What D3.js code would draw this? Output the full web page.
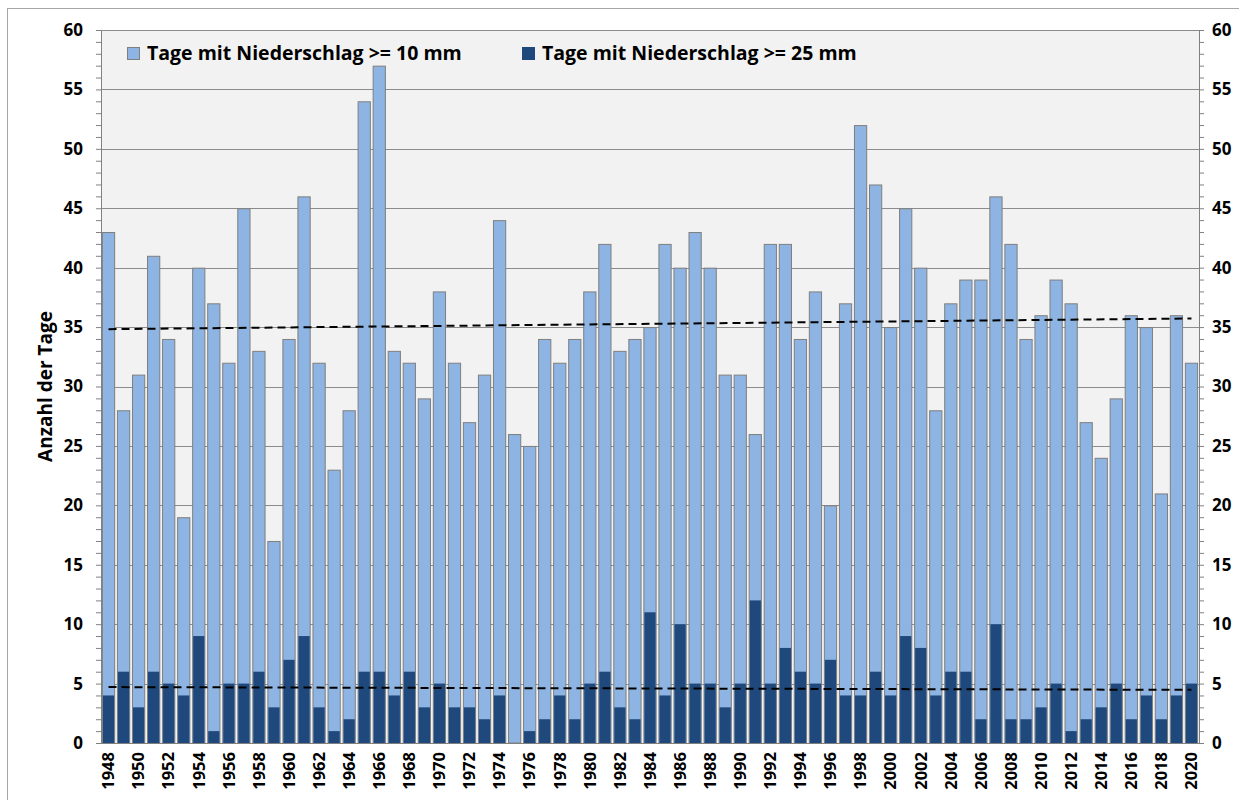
<!DOCTYPE html>
<html>
<head>
<meta charset="utf-8">
<script src="https://cdn.jsdelivr.net/npm/d3@7"></script>
<style>
  body { margin: 0; background: #fff; }
  svg text { font-family: "Open Sans", sans-serif; font-weight: bold; fill: #000; }
</style>
</head>
<body>
<svg id="vis" width="1239" height="800"></svg>
<script>
// years on the x axis
const years = d3.range(1948, 2021);

// Tage mit Niederschlag >= 10 mm
const days10 = [
	43, 28, 31, 41, 34, 19, 40, 37, 32, 45,
	33, 17, 34, 46, 32, 23, 28, 54, 57, 33,
	32, 29, 38, 32, 27, 31, 44, 26, 25, 34,
	32, 34, 38, 42, 33, 34, 35, 42, 40, 43,
	40, 31, 31, 26, 42, 42, 34, 38, 20, 37,
	52, 47, 35, 45, 40, 28, 37, 39, 39, 46,
	42, 34, 36, 39, 37, 27, 24, 29, 36, 35,
	21, 36, 32
];

// Tage mit Niederschlag >= 25 mm
const days25 = [
	4, 6, 3, 6, 5, 4, 9, 1, 5, 5,
	6, 3, 7, 9, 3, 1, 2, 6, 6, 4,
	6, 3, 5, 3, 3, 2, 4, 0, 1, 2,
	4, 2, 5, 6, 3, 2, 11, 4, 10, 5,
	5, 3, 5, 12, 5, 8, 6, 5, 7, 4,
	4, 6, 4, 9, 8, 4, 6, 6, 2, 10,
	2, 2, 3, 5, 1, 2, 3, 5, 2, 4,
	2, 4, 5
];

const series = [
	{ label: "Tage mit Niederschlag >= 10 mm", values: days10, color: "#8db4e2" },
	{ label: "Tage mit Niederschlag >= 25 mm", values: days25, color: "#1f497d" }
];

const yTicks = d3.range(0, 61, 5);

const svg = d3.select("svg#vis");
const plot = { left: 101, right: 1199, top: 30, bottom: 743 };

// outer chart frame
svg.append("rect")
	.attr("x", 7.5).attr("y", 8.5)
	.attr("width", 1240).attr("height", 800)
	.attr("fill", "none")
	.attr("stroke", "#a6a6a6");

const x = d3.scaleBand()
	.domain(years)
	.range([plot.left, plot.right])
	.paddingInner(0.12)
	.paddingOuter(0.06);

const y = d3.scaleLinear()
	.domain([0, 60])
	.range([plot.bottom, plot.top]);

// plot background
svg.append("rect")
	.attr("x", plot.left).attr("y", plot.top)
	.attr("width", plot.right - plot.left)
	.attr("height", plot.bottom - plot.top)
	.attr("fill", "#f2f2f2");

// gridlines
svg.append("g")
	.selectAll("line")
	.data(yTicks.filter(d => d > 0))
	.join("line")
	.attr("x1", plot.left).attr("x2", plot.right)
	.attr("y1", d => Math.round(y(d)) + 0.5)
	.attr("y2", d => Math.round(y(d)) + 0.5)
	.attr("stroke", "#8c8c8c");

// bars, the >= 25 mm bars drawn over the >= 10 mm bars
svg.append("g")
	.selectAll("rect")
	.data(days10)
	.join("rect")
	.attr("x", (d, i) => x(years[i]) + 0.5)
	.attr("y", d => y(d) + 0.5)
	.attr("width", x.bandwidth() - 1)
	.attr("height", d => y(0) - y(d) - 0.5)
	.attr("fill", series[0].color)
	.attr("stroke", "#7f7f7f");

svg.append("g")
	.selectAll("rect")
	.data(days25)
	.join("rect")
	.attr("x", (d, i) => x(years[i]) + 1)
	.attr("y", d => y(d))
	.attr("width", x.bandwidth() - 2)
	.attr("height", d => y(0) - y(d))
	.attr("fill", series[1].color);

// linear trend lines
function trend(values) {
	const mx = d3.mean(years), my = d3.mean(values);
	let num = 0, den = 0;
	years.forEach((yr, i) => {
		num += (yr - mx) * (values[i] - my);
		den += (yr - mx) * (yr - mx);
	});
	const b = num / den;
	const a = my - b * mx;
	return [years[0], years[years.length - 1]].map(yr => [yr, a + b * yr]);
}

const line = d3.line()
	.x(d => x(d[0]) + x.bandwidth() / 2)
	.y(d => y(d[1]));

svg.append("g")
	.selectAll("path")
	.data(series)
	.join("path")
	.attr("d", s => line(trend(s.values)))
	.attr("fill", "none")
	.attr("stroke", "#000")
	.attr("stroke-width", 2)
	.attr("stroke-dasharray", "8,5");

// axes
const minor = d3.range(0, 61, 1);

const leftAxis = svg.append("g")
	.attr("transform", "translate(" + plot.left + ",0)")
	.call(d3.axisLeft(y).tickValues(minor).tickSize(5).tickFormat(""));
leftAxis.selectAll("path, line").attr("stroke", "#808080");

const rightAxis = svg.append("g")
	.attr("transform", "translate(" + plot.right + ",0)")
	.call(d3.axisRight(y).tickValues(minor).tickSize(5).tickFormat(""));
rightAxis.selectAll("path, line").attr("stroke", "#808080");

svg.append("line")
	.attr("x1", plot.left).attr("x2", plot.right)
	.attr("y1", plot.top + 0.5).attr("y2", plot.top + 0.5)
	.attr("stroke", "#8c8c8c");

svg.append("line")
	.attr("x1", plot.left - 5).attr("x2", plot.right + 5)
	.attr("y1", plot.bottom + 0.5).attr("y2", plot.bottom + 0.5)
	.attr("stroke", "#808080");

// y tick labels on both sides
svg.append("g")
	.selectAll("text")
	.data(yTicks)
	.join("text")
	.attr("x", 83)
	.attr("y", d => y(d))
	.attr("dy", "0.35em")
	.attr("text-anchor", "end")
	.style("font-size", "17px")
	.text(d => d);

svg.append("g")
	.selectAll("text")
	.data(yTicks)
	.join("text")
	.attr("x", 1212)
	.attr("y", d => y(d))
	.attr("dy", "0.35em")
	.style("font-size", "17px")
	.text(d => d);

// x labels, every second year
svg.append("g")
	.selectAll("text")
	.data(years.filter(yr => yr % 2 === 0))
	.join("text")
	.attr("transform", d => "translate(" + (x(d) + x.bandwidth() / 2) + ",752) rotate(-90)")
	.attr("dy", "0.35em")
	.attr("text-anchor", "end")
	.style("font-size", "16.5px")
	.text(d => d);

// y axis title
svg.append("text")
	.attr("transform", "translate(45," + ((plot.top + plot.bottom) / 2) + ") rotate(-90)")
	.attr("text-anchor", "middle")
	.attr("dy", "0.35em")
	.style("font-size", "19px")
	.text("Anzahl der Tage");

// legend
const legendX = [127, 522];
const legend = svg.append("g")
	.selectAll("g")
	.data(series)
	.join("g")
	.attr("transform", (d, i) => "translate(" + legendX[i] + ",47)");

legend.append("rect")
	.attr("x", 0.5).attr("y", 0.5)
	.attr("width", 12).attr("height", 12)
	.attr("fill", d => d.color)
	.attr("stroke", d => d === series[0] ? "#7f7f7f" : d.color);

legend.append("text")
	.attr("x", 20)
	.attr("y", 6.5)
	.attr("dy", "0.35em")
	.style("font-size", "19.5px")
	.text(d => d.label);
</script>
</body>
</html>
